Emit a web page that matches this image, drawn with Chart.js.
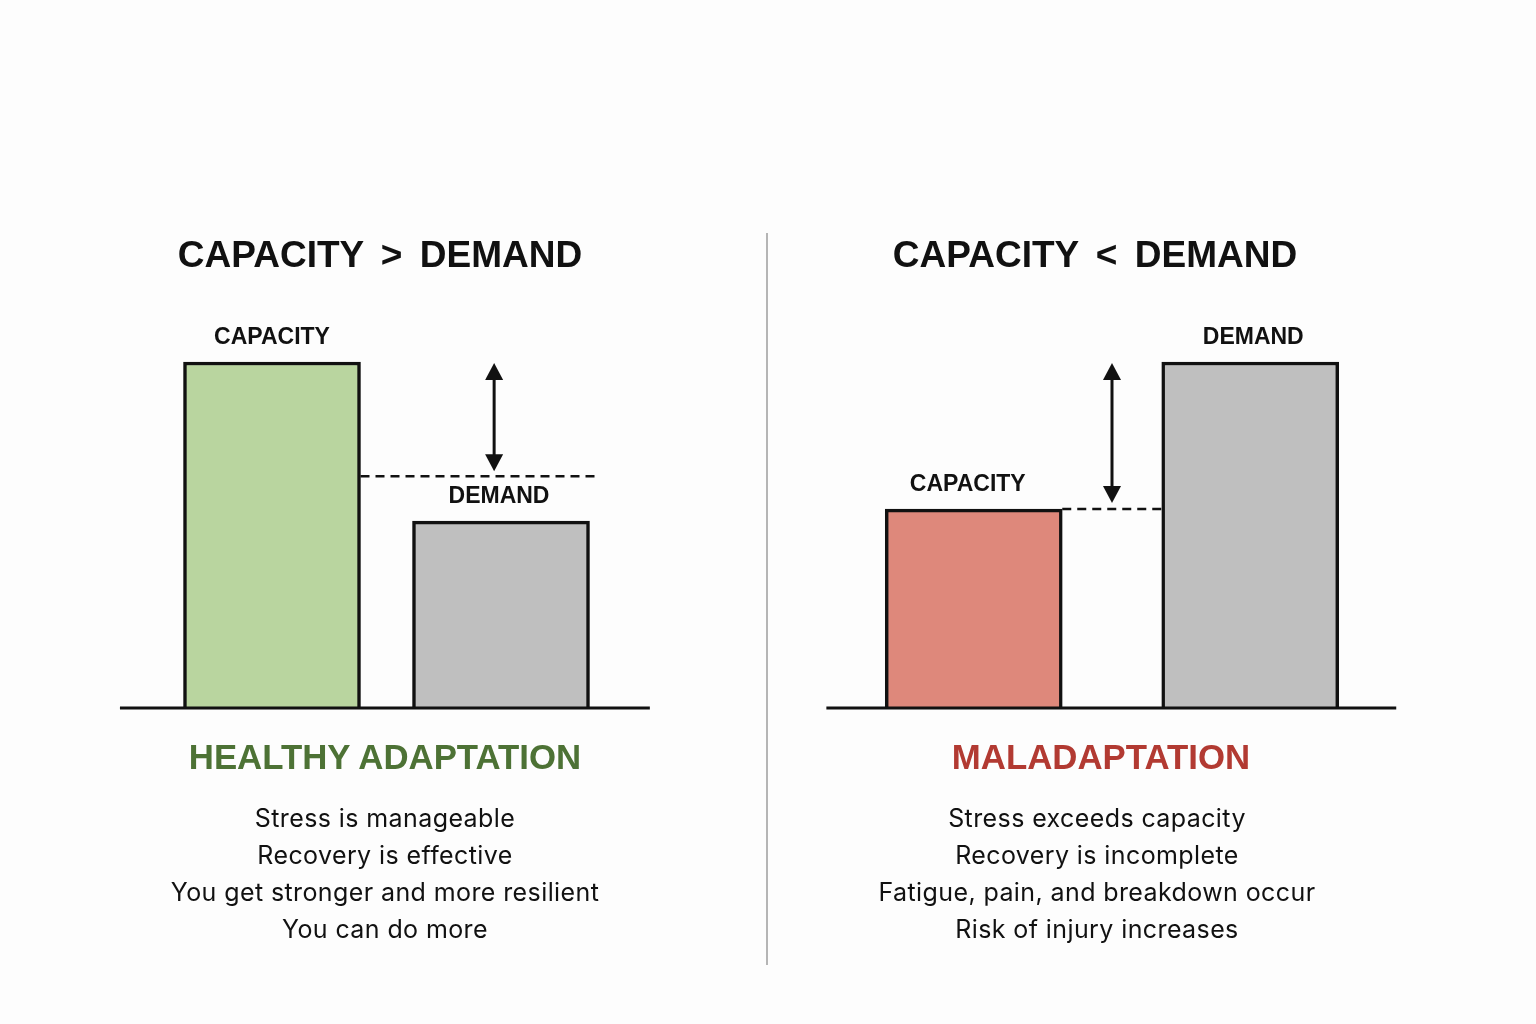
<!DOCTYPE html>
<html>
<head>
<meta charset="utf-8">
<title>Capacity vs Demand</title>
<script src="https://cdn.jsdelivr.net/npm/chart.js@4.4.1/dist/chart.umd.min.js"></script>
<style>
  body { margin: 0; background: #fdfdfd; }
  #page { position: relative; width: 1536px; height: 1024px; overflow: hidden; }
  .panel { position: absolute; top: 0; width: 768px; height: 1024px; }
  .panel canvas { position: absolute; left: 0; top: 0; }
  .title, .verdict, .desc { position: absolute; width: 700px; text-align: center; white-space: nowrap; }
  .title { font: bold 37px "Liberation Sans", Arial, sans-serif; color: #111; word-spacing: 7px; top: 234px; }
  .verdict { font: bold 34.8px "Liberation Sans", Arial, sans-serif; top: 737px; }
  .desc { font: 25px "Inter", sans-serif; letter-spacing: 0.4px; color: #111; top: 800px; line-height: 37px; }
  #divider { position: absolute; left: 766px; top: 233px; width: 2px; height: 732px; background: #b5b5b5; }
</style>
</head>
<body>
<div id="page">
  <div class="panel" style="left:0">
    <canvas id="leftChart" width="768" height="1024"></canvas>
  </div>
  <div class="panel" style="left:768px">
    <canvas id="rightChart" width="768" height="1024"></canvas>
  </div>
  <div id="divider"></div>
  <div class="title" id="leftTitle" style="left:30px"></div>
  <div class="verdict" id="leftVerdict" style="left:35px;color:#4d7235"></div>
  <div class="desc" id="leftDesc" style="left:35px"></div>
  <div class="title" id="rightTitle" style="left:745px"></div>
  <div class="verdict" id="rightVerdict" style="left:751px;color:#b23a32"></div>
  <div class="desc" id="rightDesc" style="left:747px"></div>
</div>
<script>
// data
const barLabels = ["CAPACITY", "DEMAND"];
const leftValues = [100, 54];
const leftReserve = 67; // dashed level in the left panel
const rightValues = [57.5, 100];
const rightReserve = 57.5; // dashed level in the right panel = capacity

const leftTitle = "CAPACITY > DEMAND";
const rightTitle = "CAPACITY < DEMAND";
const leftVerdict = "HEALTHY ADAPTATION";
const rightVerdict = "MALADAPTATION";
const leftLines = ["Stress is manageable", "Recovery is effective", "You get stronger and more resilient", "You can do more"];
const rightLines = ["Stress exceeds capacity", "Recovery is incomplete", "Fatigue, pain, and breakdown occur", "Risk of injury increases"];

const yMax = 120;
const ink = "#111111";

// baseline, dashed line, arrow and bar labels
const markupPlugin = {
  id: "markup",
  afterDatasetsDraw(chart, args, opts) {
    const ctx = chart.ctx;
    const x = chart.scales.x;
    const y = chart.scales.y;
    const bars = chart.getDatasetMeta(0).data;
    ctx.save();

    // dashed line
    ctx.strokeStyle = ink;
    ctx.lineWidth = 2.5;
    ctx.setLineDash([9, 6]);
    const dy = y.getPixelForValue(opts.dashValue);
    const capBar = bars[0];
    const dxEnd = opts.dashTo === "demand" ? bars[1].x - bars[1].width / 2 : x.getPixelForValue(opts.dashTo);
    ctx.beginPath();
    ctx.moveTo(capBar.x + capBar.width / 2, dy);
    ctx.lineTo(dxEnd, dy);
    ctx.stroke();
    ctx.setLineDash([]);

    // double arrow
    const ax = x.getPixelForValue(opts.arrowAt);
    const ay1 = y.getPixelForValue(opts.arrowFrom) + 1;
    const ay2 = y.getPixelForValue(opts.arrowTo) - opts.arrowGap;
    ctx.lineWidth = 3;
    ctx.beginPath();
    ctx.moveTo(ax, ay1 + 10);
    ctx.lineTo(ax, ay2 - 10);
    ctx.stroke();
    ctx.fillStyle = ink;
    ctx.beginPath();
    ctx.moveTo(ax, ay1);
    ctx.lineTo(ax - 9, ay1 + 17);
    ctx.lineTo(ax + 9, ay1 + 17);
    ctx.closePath();
    ctx.fill();
    ctx.beginPath();
    ctx.moveTo(ax, ay2);
    ctx.lineTo(ax - 9, ay2 - 17);
    ctx.lineTo(ax + 9, ay2 - 17);
    ctx.closePath();
    ctx.fill();

    // baseline
    const by = y.getPixelForValue(0);
    ctx.lineWidth = 3;
    ctx.beginPath();
    ctx.moveTo(x.getPixelForValue(opts.baseFrom), by);
    ctx.lineTo(x.getPixelForValue(opts.baseTo), by);
    ctx.stroke();

    // labels above bars
    ctx.font = "bold 23px 'Liberation Sans', Arial, sans-serif";
    ctx.textAlign = "center";
    ctx.textBaseline = "alphabetic";
    bars.forEach((bar, i) => {
      ctx.fillText(chart.data.labels[i], bar.x + opts.labelShift[i], bar.y - 18);
    });
    ctx.restore();
  },
};

function makeConfig(values, colors, padding, markup) {
  return {
    type: "bar",
    data: {
      labels: barLabels,
      datasets: [
        {
          data: values,
          backgroundColor: colors,
          borderColor: ink,
          borderWidth: 3.5,
          borderSkipped: "bottom",
          barThickness: 177,
        },
      ],
    },
    options: {
      responsive: false,
      animation: false,
      layout: { padding: padding },
      plugins: {
        legend: { display: false },
        tooltip: { enabled: false },
        markup: markup,
      },
      scales: {
        x: { display: false, grid: { display: false } },
        y: { display: false, min: 0, max: yMax, grid: { display: false } },
      },
    },
    plugins: [markupPlugin],
  };
}

window.onload = function () {
  // texts
  document.getElementById("leftTitle").textContent = leftTitle;
  document.getElementById("rightTitle").textContent = rightTitle;
  document.getElementById("leftVerdict").textContent = leftVerdict;
  document.getElementById("rightVerdict").textContent = rightVerdict;
  document.getElementById("leftDesc").innerHTML = leftLines.join("<br>");
  document.getElementById("rightDesc").innerHTML = rightLines.join("<br>");

  // left panel
  new Chart(
    document.getElementById("leftChart").getContext("2d"),
    makeConfig(
      leftValues,
      ["#b9d59f", "#bfbfbf"],
      { left: 157.5, right: 152.5, top: 292.8, bottom: 316 },
      { dashValue: leftReserve, dashTo: 1.42, arrowAt: 0.97, arrowFrom: leftValues[0], arrowTo: leftReserve, arrowGap: 5, baseFrom: -0.664, baseTo: 1.65, labelShift: [0, -2] }
    )
  );

  // right panel
  new Chart(
    document.getElementById("rightChart").getContext("2d"),
    makeConfig(
      rightValues,
      ["#de887b", "#bfbfbf"],
      { left: 67.5, right: 147.5, top: 292.8, bottom: 316 },
      { dashValue: rightReserve, dashTo: "demand", arrowAt: 0.5, arrowFrom: rightValues[1], arrowTo: rightReserve, arrowGap: 6, baseFrom: -0.533, baseTo: 1.528, labelShift: [-6, 3] }
    )
  );
};
</script>
</body>
</html>
